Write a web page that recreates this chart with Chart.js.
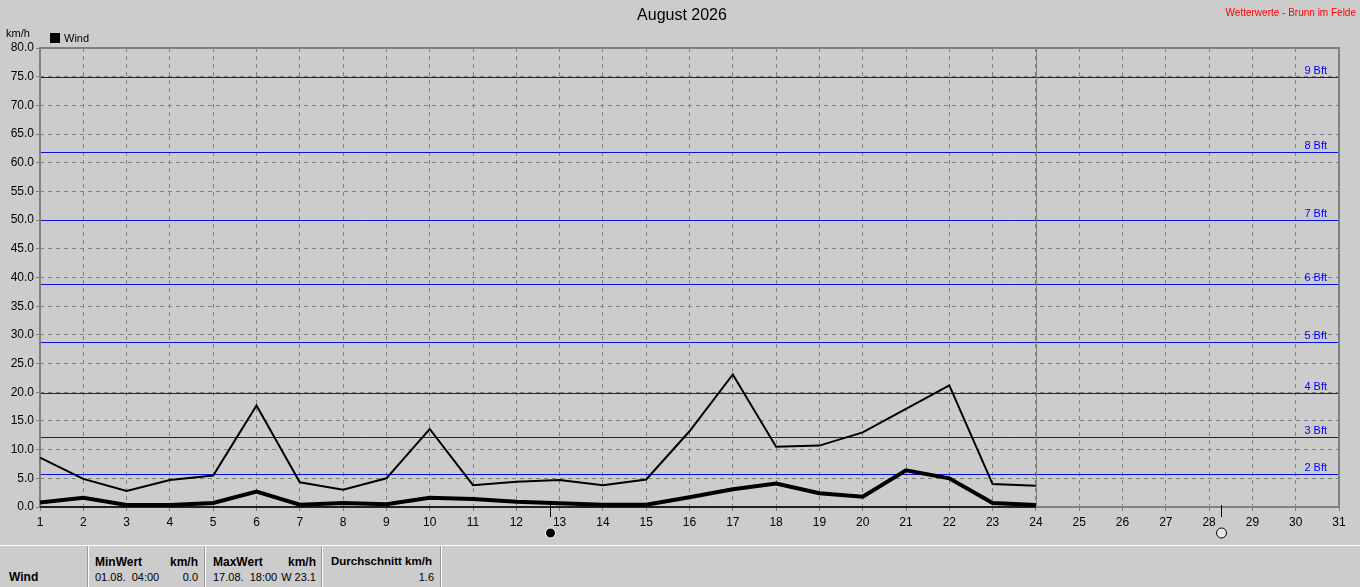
<!DOCTYPE html>
<html><head><meta charset="utf-8">
<script src="https://cdn.jsdelivr.net/npm/chart.js@4.4.1/dist/chart.umd.min.js"></script>
<style>
html,body{margin:0;padding:0;background:#cccccc;width:1360px;height:587px;overflow:hidden;font-family:"Liberation Sans",Arial,sans-serif;color:#000;}
#wrap{position:absolute;left:0;top:0;width:1360px;height:545px;}
.t{position:absolute;white-space:pre;line-height:1;}
.b{font-weight:bold;}
.hl{position:absolute;left:0;top:545px;width:1360px;height:1px;background:#ffffff;}
.sep{position:absolute;top:546px;width:1px;height:41px;}
</style></head><body>
<div id="wrap"><canvas id="c" width="1360" height="545"></canvas></div>

<div class="t" style="left:482px;width:400px;text-align:center;top:7px;font-size:16px;">August 2026</div>
<div class="t" style="right:4px;top:7.5px;font-size:10px;color:#ff0000;">Wetterwerte - Brunn im Felde</div>
<div class="t" style="left:6px;top:28px;font-size:11px;">km/h</div>
<div style="position:absolute;left:50px;top:33px;width:10px;height:10px;background:#000;"></div>
<div class="t" style="left:64px;top:32.7px;font-size:11px;">Wind</div>

<div class="hl"></div>
<div class="sep" style="left:87px;background:#999999;"></div><div class="sep" style="left:88px;background:#ffffff;"></div>
<div class="sep" style="left:204px;background:#999999;"></div><div class="sep" style="left:205px;background:#ffffff;"></div>
<div class="sep" style="left:321px;background:#999999;"></div><div class="sep" style="left:322px;background:#ffffff;"></div>
<div class="sep" style="left:440px;background:#999999;"></div><div class="sep" style="left:441px;background:#ffffff;"></div>

<div class="t b" style="left:9px;top:571px;font-size:12px;">Wind</div>
<div class="t b" style="left:95px;top:555.5px;font-size:12px;">MinWert</div>
<div class="t b" style="left:140px;width:58px;text-align:right;top:555.5px;font-size:12px;">km/h</div>
<div class="t" style="left:95px;top:571.7px;font-size:11px;">01.08.  04:00</div>
<div class="t" style="left:140px;width:58px;text-align:right;top:571.7px;font-size:11px;">0.0</div>
<div class="t b" style="left:213px;top:555.5px;font-size:12px;">MaxWert</div>
<div class="t b" style="left:258px;width:58px;text-align:right;top:555.5px;font-size:12px;">km/h</div>
<div class="t" style="left:213px;top:571.7px;font-size:11px;">17.08.  18:00</div>
<div class="t" style="left:258px;width:58px;text-align:right;top:571.7px;font-size:11px;">W 23.1</div>
<div class="t b" style="left:331px;top:555.5px;font-size:11.5px;">Durchschnitt km/h</div>
<div class="t" style="left:376px;width:58px;text-align:right;top:571.7px;font-size:11px;">1.6</div>

<script>
// ---- data ----
const days = [1,2,3,4,5,6,7,8,9,10,11,12,13,14,15,16,17,18,19,20,21,22,23,24,25,26,27,28,29,30,31];
const maxValues = [8.6,4.9,2.8,4.7,5.5,17.7,4.3,3.0,5.0,13.6,3.8,4.4,4.7,3.8,4.8,13.2,23.1,10.5,10.7,13.0,17.1,21.2,4.0,3.7];
const avgValues = [0.8,1.6,0.35,0.35,0.7,2.7,0.4,0.7,0.5,1.6,1.4,0.9,0.65,0.4,0.4,1.7,3.1,4.1,2.4,1.8,6.4,5.0,0.7,0.35];
const minValues = [0,0,0,0,0,0,0,0,0,0,0,0,0,0,0,0,0,0,0,0,0,0,0,0];
const yTicks = [0,5,10,15,20,25,30,35,40,45,50,55,60,65,70,75,80];
const bftLevels = [5.76,12.24,19.8,28.8,38.88,50.04,61.92,74.88];
const bftLabels = ['2 Bft','3 Bft','4 Bft','5 Bft','6 Bft','7 Bft','8 Bft','9 Bft'];
const moonDays = [12.78, 28.28];
const moonTypes = ['new','full'];

const pts = arr => arr.map((v,i)=>({x:days[i], y:v}));
const lastDay = days[maxValues.length-1];

const overlay = {
  id:'overlay',
  beforeDatasetsDraw(chart){
    const {ctx, chartArea:a, scales:{x,y}} = chart;
    ctx.save();
    // Beaufort lines
    ctx.lineWidth = 1;
    ctx.strokeStyle = '#0814d8';
    ctx.fillStyle = '#0000ff';
    ctx.font = '11px "Liberation Sans", Arial, sans-serif';
    ctx.textAlign = 'right';
    ctx.textBaseline = 'alphabetic';
    bftLevels.forEach((v,i)=>{
      const py = Math.round(y.getPixelForValue(v)) + 0.5;
      ctx.beginPath(); ctx.moveTo(a.left, py); ctx.lineTo(a.right, py); ctx.stroke();
      ctx.fillText(bftLabels[i], a.right - 12, py - 4);
    });
    // current day line
    const cx = Math.round(x.getPixelForValue(lastDay)) + 0.5;
    ctx.strokeStyle = '#808080';
    ctx.beginPath(); ctx.moveTo(cx, a.top); ctx.lineTo(cx, a.bottom); ctx.stroke();
    // frame
    ctx.strokeStyle = '#808080';
    ctx.lineWidth = 2;
    ctx.beginPath();
    ctx.moveTo(a.left, a.bottom); ctx.lineTo(a.left, a.top); ctx.lineTo(a.right, a.top); ctx.lineTo(a.right, a.bottom); ctx.lineTo(a.left, a.bottom);
    ctx.stroke();
    ctx.restore();
  },
  afterDraw(chart){
    const {ctx, chartArea:a, scales:{x}} = chart;
    ctx.save();
    moonDays.forEach((d,i)=>{
      const px = Math.round(x.getPixelForValue(d)) + 0.5;
      ctx.strokeStyle = '#000'; ctx.lineWidth = 1;
      ctx.beginPath(); ctx.moveTo(px, a.bottom - 2); ctx.lineTo(px, a.bottom + 10); ctx.stroke();
      ctx.beginPath(); ctx.arc(px, a.bottom + 26, 5, 0, Math.PI*2);
      if (moonTypes[i] === 'new') {
        ctx.fillStyle = '#000'; ctx.fill();
        ctx.strokeStyle = '#fff'; ctx.lineWidth = 1; ctx.stroke();
      } else {
        ctx.fillStyle = '#e6e6e6'; ctx.fill();
        ctx.strokeStyle = '#000'; ctx.lineWidth = 1; ctx.stroke();
      }
    });
    ctx.restore();
  }
};

new Chart(document.getElementById('c'), {
  type:'line',
  data:{
    datasets:[
      {label:'Wind max', data:pts(maxValues), borderColor:'#000', borderWidth:2, pointRadius:0, tension:0, fill:false, clip:false},
      {label:'Wind', data:pts(avgValues), borderColor:'#000', borderWidth:4, pointRadius:0, tension:0, fill:false, clip:false},
      {label:'Wind min', data:pts(minValues), borderColor:'#000', borderWidth:1.5, pointRadius:0, tension:0, fill:false, clip:false}
    ]
  },
  options:{
    responsive:false, animation:false, devicePixelRatio:1,
    layout:{padding:{left:0, top:48, right:21, bottom:0}},
    plugins:{legend:{display:false}, title:{display:false}, tooltip:{enabled:false}},
    scales:{
      x:{
        type:'linear', min:1, max:31,
        afterBuildTicks(s){ s.ticks = days.map(d=>({value:d})); },
        afterFit(s){ s.height = 38; },
        ticks:{color:'#000', font:{family:'"Liberation Sans", Arial, sans-serif', size:12}, padding:4, maxRotation:0, autoSkip:false, callback:v=>String(v)},
        grid:{color:'#808080', lineWidth:1, drawTicks:true, tickLength:4, tickColor:'#808080', tickBorderDash:[]},
        border:{display:false, dash:[4,4]}
      },
      y:{
        min:0, max:80,
        afterBuildTicks(s){ s.ticks = yTicks.map(v=>({value:v})); },
        afterFit(s){ s.width = 40; },
        ticks:{color:'#000', font:{family:'"Liberation Sans", Arial, sans-serif', size:12}, padding:2, callback:v=>Number(v).toFixed(1)},
        grid:{color:'#808080', lineWidth:1, drawTicks:true, tickLength:4, tickColor:'#808080', tickBorderDash:[]},
        border:{display:false, dash:[4,4]}
      }
    }
  },
  plugins:[overlay]
});
</script>
</body></html>
